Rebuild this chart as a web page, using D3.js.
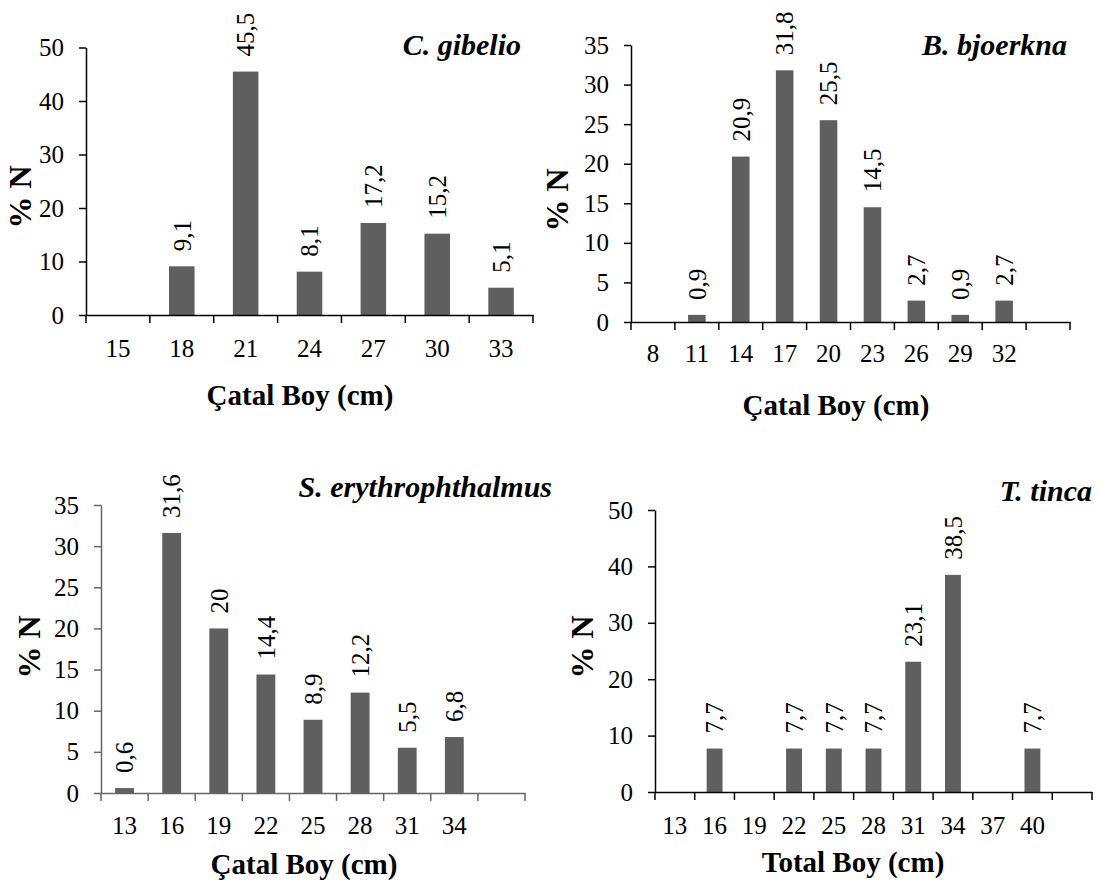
<!DOCTYPE html>
<html>
<head>
<meta charset="utf-8">
<script src="https://cdn.jsdelivr.net/npm/d3@7"></script>
<style>
  body { margin: 0; background: #fff; }
  svg { display: block; }
  svg text { font-family: 'Times New Roman', 'Liberation Serif', serif; }
  .tick text { font-size: 25px; fill: #000; }
  .axis-title { font-size: 29px; font-weight: bold; }
  .y-title { font-size: 32px; font-weight: bold; }
  .panel-title { font-size: 30px; font-weight: bold; font-style: italic; }
  .bar-label { font-size: 25px; }
</style>
</head>
<body>
<svg></svg>
<script>
// data
const gibelioCats = ['15', '18', '21', '24', '27', '30', '33']
const gibelioVals = [null, 9.1, 45.5, 8.1, 17.2, 15.2, 5.1]

const bjoerknaCats = ['8', '11', '14', '17', '20', '23', '26', '29', '32', '']
const bjoerknaVals = [null, 0.9, 20.9, 31.8, 25.5, 14.5, 2.7, 0.9, 2.7, null]

const erythCats = ['13', '16', '19', '22', '25', '28', '31', '34', '']
const erythVals = [0.6, 31.6, 20, 14.4, 8.9, 12.2, 5.5, 6.8, null]

const tincaCats = ['13', '16', '19', '22', '25', '28', '31', '34', '37', '40', '']
const tincaVals = [null, 7.7, null, 7.7, 7.7, 7.7, 23.1, 38.5, null, 7.7, null]

const yTicks50 = [0, 10, 20, 30, 40, 50]
const yTicks35 = [0, 5, 10, 15, 20, 25, 30, 35]

const width = 1120,
  height = 881

const svg = d3.select('svg')
  .attr('width', width)
  .attr('height', height)

// panel layout
const panels = [
  {
    name: 'C. gibelio', xTitle: 'Çatal Boy (cm)', cats: gibelioCats, vals: gibelioVals, yMax: 50, yTicks: yTicks50,
    left: 86, right: 533, top: 47.5, bottom: 315, axisColor: '#000', labelPad: 24,
    titleX: 521, titleY: 55, yTitleX: 21, yTitleY: 197, xTitleX: 300, xTitleY: 405
  },
  {
    name: 'B. bjoerkna', xTitle: 'Çatal Boy (cm)', cats: bjoerknaCats, vals: bjoerknaVals, yMax: 35, yTicks: yTicks35,
    left: 631, right: 1070, top: 45, bottom: 322, axisColor: '#000', labelPad: 22,
    titleX: 1067, titleY: 55, yTitleX: 558, yTitleY: 200, xTitleX: 836, xTitleY: 415
  },
  {
    name: 'S. erythrophthalmus', xTitle: 'Çatal Boy (cm)', cats: erythCats, vals: erythVals, yMax: 35, yTicks: yTicks35,
    left: 101, right: 525, top: 505, bottom: 793, axisColor: '#666', labelPad: 23,
    titleX: 552, titleY: 497, yTitleX: 30, yTitleY: 647, xTitleX: 304, xTitleY: 874
  },
  {
    name: 'T. tinca', xTitle: 'Total Boy (cm)', cats: tincaCats, vals: tincaVals, yMax: 50, yTicks: yTicks50,
    left: 655, right: 1092, top: 510, bottom: 792, axisColor: '#000', labelPad: 24,
    titleX: 1092, titleY: 501, yTitleX: 583, yTitleY: 647, xTitleX: 853, xTitleY: 872
  }
]

panels.forEach(drawPanel)

function drawPanel(p) {
  const g = svg.append('g')

  const x = d3.scaleBand()
    .domain(p.cats.map((c, i) => i))
    .range([p.left, p.right])
    .padding(0)

  const y = d3.scaleLinear()
    .domain([0, p.yMax])
    .range([p.bottom, p.top])

  const bw = x.bandwidth()
  const rows = p.cats.map((c, i) => ({ i, cat: c, v: p.vals[i] })).filter(d => d.v !== null)

  // bars
  g.selectAll('.bar')
    .data(rows)
    .enter().append('rect')
    .attr('class', 'bar')
    .attr('x', d => x(d.i) + bw * 0.3)
    .attr('width', bw * 0.4)
    .attr('y', d => y(d.v))
    .attr('height', d => y(0) - y(d.v))
    .attr('fill', '#5f5f5f')

  // y axis
  const yAxis = g.append('g')
    .attr('transform', `translate(${p.left},0)`)
    .call(d3.axisLeft(y).tickValues(p.yTicks).tickSize(7).tickPadding(15).tickSizeOuter(0))
    .attr('font-family', null)
  yAxis.select('.domain').attr('stroke', p.axisColor).attr('stroke-width', 1.5)
  yAxis.selectAll('.tick line').attr('stroke', p.axisColor).attr('stroke-width', 1.5)

  // x axis labels centred in bands
  const xAxis = g.append('g')
    .attr('transform', `translate(0,${p.bottom})`)
    .call(d3.axisBottom(x).tickSize(0).tickPadding(p.labelPad).tickFormat(i => p.cats[i]))
    .attr('font-family', null)
  xAxis.select('.domain').attr('stroke', p.axisColor).attr('stroke-width', 1.5)

  // x tick marks between categories
  const edges = p.cats.map((c, i) => x(i)).concat([p.right])
  g.selectAll('.xtick')
    .data(edges)
    .enter().append('line')
    .attr('class', 'xtick')
    .attr('x1', d => d)
    .attr('x2', d => d)
    .attr('y1', p.bottom)
    .attr('y2', p.bottom + 8)
    .attr('stroke', p.axisColor)
    .attr('stroke-width', 1.5)

  // value labels
  g.selectAll('.bar-label')
    .data(rows)
    .enter().append('text')
    .attr('class', 'bar-label')
    .attr('transform', d => `translate(${x(d.i) + bw / 2},${y(d.v) - 15}) rotate(-90)`)
    .attr('dy', '0.35em')
    .attr('text-anchor', 'start')
    .text(d => String(d.v).replace('.', ','))

  // titles
  g.append('text')
    .attr('class', 'panel-title')
    .attr('x', p.titleX)
    .attr('y', p.titleY)
    .attr('text-anchor', 'end')
    .text(p.name)

  g.append('text')
    .attr('class', 'y-title')
    .attr('transform', `translate(${p.yTitleX + 10},${p.yTitleY}) rotate(-90)`)
    .attr('text-anchor', 'middle')
    .text('% N')

  g.append('text')
    .attr('class', 'axis-title')
    .attr('x', p.xTitleX)
    .attr('y', p.xTitleY)
    .attr('text-anchor', 'middle')
    .text(p.xTitle)
}
</script>
</body>
</html>
